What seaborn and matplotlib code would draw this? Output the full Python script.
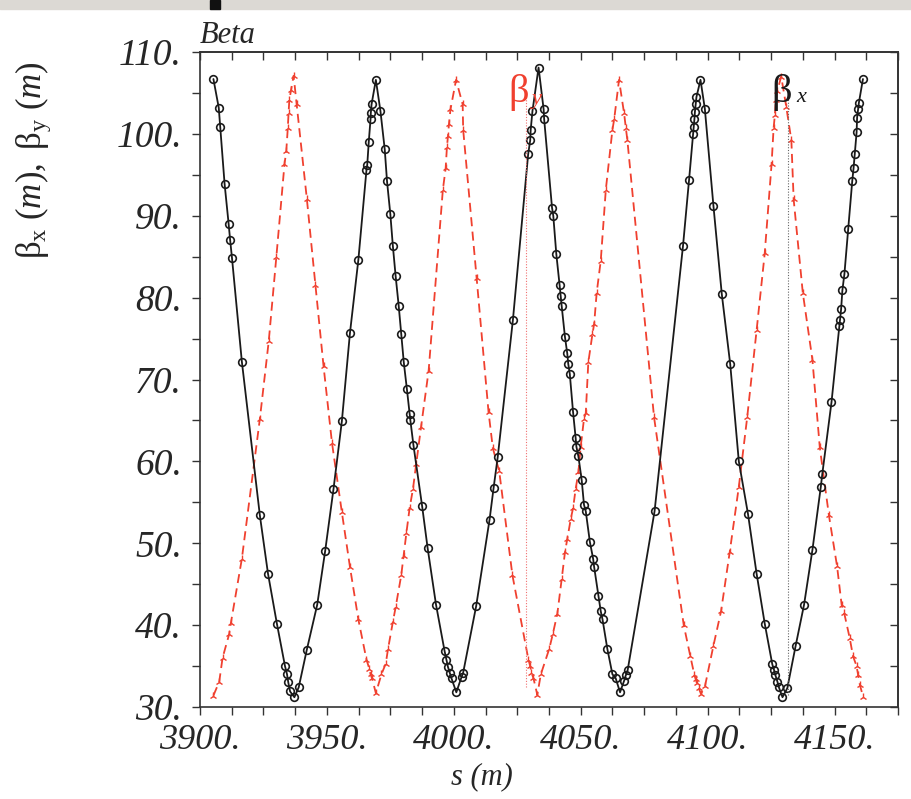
import numpy as np
import pandas as pd
import matplotlib
matplotlib.use("Agg")
import matplotlib.pyplot as plt
import seaborn as sns
from matplotlib.ticker import MultipleLocator
from matplotlib.patches import Rectangle

# beta_x (black, circles): s (m) and beta (m)
s_bx = [3905.3, 3907.4, 3908.0, 3909.7, 3911.3, 3911.9, 3912.6, 3916.5, 3923.6, 3926.8,
        3930.3, 3933.5, 3934.3, 3934.8, 3935.5, 3937.2, 3938.9, 3942.1, 3946.2, 3949.3,
        3952.6, 3955.9, 3959.1, 3962.4, 3965.6, 3965.9, 3966.5, 3967.2, 3967.3, 3967.6,
        3969.3, 3971.1, 3972.8, 3973.7, 3975.0, 3976.0, 3977.1, 3978.3, 3979.3, 3980.3,
        3981.5, 3982.6, 3982.9, 3984.1, 3987.5, 3989.7, 3993.0, 3996.4, 3997.1, 3997.7,
        3998.4, 3999.1, 4001.0, 4003.1, 4003.7, 4008.8, 4014.1, 4015.7, 4017.3, 4023.3,
        4029.3, 4030.1, 4030.3, 4031.0, 4033.4, 4035.4, 4035.6, 4038.7, 4039.2, 4040.4,
        4041.7, 4042.1, 4042.5, 4043.8, 4044.7, 4045.1, 4045.7, 4047.0, 4048.0, 4048.3,
        4049.1, 4050.4, 4051.3, 4052.0, 4053.6, 4054.9, 4055.3, 4057.0, 4057.9, 4058.6,
        4060.5, 4062.5, 4063.8, 4065.5, 4067.1, 4067.8, 4068.5, 4079.1, 4090.3, 4092.7,
        4094.3, 4094.6, 4094.8, 4095.0, 4095.3, 4095.6, 4097.2, 4098.9, 4102.3, 4105.6,
        4108.9, 4112.3, 4115.9, 4119.3, 4122.5, 4125.5, 4126.2, 4126.7, 4127.5, 4128.1,
        4129.5, 4131.4, 4134.7, 4138.0, 4141.3, 4144.6, 4145.2, 4148.8, 4151.9, 4152.2,
        4152.6, 4153.1, 4153.9, 4155.4, 4157.0, 4157.5, 4158.0, 4158.7, 4158.9, 4159.3,
        4159.6, 4161.2]
beta_x = [106.7, 103.2, 100.8, 93.9, 89.0, 87.0, 84.9, 72.2, 53.4, 46.3,
          40.2, 35.0, 34.0, 33.0, 31.9, 31.2, 32.4, 37.0, 42.5, 49.0,
          56.6, 64.9, 75.7, 84.6, 95.6, 96.2, 99.0, 101.8, 102.5, 103.6,
          106.6, 102.8, 98.1, 94.2, 90.2, 86.3, 82.6, 79.0, 75.5, 72.1,
          68.9, 65.8, 65.0, 62.0, 54.6, 49.4, 42.5, 36.8, 35.8, 34.9,
          34.2, 33.5, 31.8, 33.7, 34.2, 42.3, 52.9, 56.8, 60.5, 77.3,
          97.5, 99.2, 100.5, 102.8, 108.1, 103.0, 101.8, 91.0, 90.0, 85.3,
          81.5, 80.2, 79.0, 75.2, 73.2, 71.9, 70.7, 66.0, 62.9, 61.8,
          60.6, 57.7, 54.7, 53.9, 50.2, 48.1, 47.1, 43.6, 41.7, 40.7,
          37.1, 34.0, 33.5, 31.8, 33.2, 33.9, 34.5, 53.9, 86.3, 94.4,
          100.0, 100.9, 101.8, 102.7, 103.6, 104.5, 106.6, 103.1, 91.2, 80.4,
          71.9, 60.0, 53.6, 46.3, 40.2, 35.2, 34.5, 33.9, 33.1, 32.4,
          31.2, 32.3, 37.5, 42.5, 49.2, 56.9, 58.5, 67.2, 76.5, 77.3,
          78.6, 80.9, 82.9, 88.4, 94.3, 95.8, 97.6, 100.2, 102.0, 103.0,
          103.8, 106.7]

# beta_y (red, dashed)
s_by = [3905.3, 3907.6, 3908.9, 3911.5, 3912.2, 3916.5, 3923.6, 3927.1, 3930.1, 3933.3,
        3934.0, 3934.6, 3934.9, 3935.2, 3935.9, 3936.9, 3938.1, 3942.1, 3945.5, 3948.7,
        3952.0, 3955.9, 3959.1, 3962.4, 3965.6, 3966.7, 3967.2, 3967.8, 3969.3, 3971.5,
        3973.2, 3974.1, 3976.0, 3977.1, 3979.3, 3980.2, 3981.3, 3982.6, 3983.9, 3985.2,
        3987.1, 3990.1, 3995.7, 3996.8, 3997.3, 3997.7, 3998.1, 3998.7, 4000.9, 4003.5,
        4003.7, 4009.0, 4013.7, 4015.4, 4017.9, 4023.1, 4029.4, 4030.1, 4030.6, 4031.4,
        4032.9, 4034.3, 4037.6, 4039.0, 4040.8, 4042.5, 4043.8, 4044.7, 4046.1, 4047.0,
        4048.0, 4049.1, 4050.0, 4051.3, 4052.0, 4053.0, 4054.6, 4055.3, 4056.3, 4057.9,
        4059.9, 4062.5, 4063.2, 4065.1, 4067.1, 4067.8, 4068.4, 4078.9, 4090.6, 4093.2,
        4094.8, 4095.3, 4095.8, 4096.5, 4097.4, 4099.0, 4102.3, 4105.3, 4108.7, 4112.3,
        4115.6, 4119.3, 4122.5, 4125.2, 4126.0, 4126.5, 4126.9, 4127.4, 4129.0, 4131.0,
        4133.0, 4133.9, 4137.5, 4141.3, 4144.2, 4147.8, 4151.0, 4152.8, 4153.8, 4156.0,
        4157.3, 4158.7, 4159.3, 4160.0, 4161.3]
beta_y = [31.4, 33.1, 36.0, 38.9, 40.3, 48.1, 65.2, 74.7, 85.0, 96.3,
          97.9, 100.7, 102.5, 104.1, 105.4, 107.1, 103.6, 92.1, 81.5, 71.6,
          62.3, 53.8, 47.1, 40.7, 35.8, 34.7, 34.0, 33.5, 31.7, 34.0,
          35.3, 37.1, 40.4, 42.2, 46.1, 48.4, 51.2, 54.3, 56.6, 59.7,
          64.2, 71.1, 93.2, 95.8, 98.4, 99.7, 101.2, 103.0, 106.6, 103.6,
          100.5, 82.4, 66.0, 61.6, 58.8, 46.1, 35.8, 35.0, 34.2, 33.5,
          31.5, 34.0, 37.1, 38.9, 41.4, 45.6, 48.9, 50.5, 53.0, 54.3,
          56.6, 58.7, 61.8, 65.2, 65.9, 72.1, 75.5, 76.8, 80.6, 84.5,
          93.2, 100.5, 101.8, 106.6, 102.5, 100.7, 99.2, 65.4, 40.0, 36.2,
          33.9, 33.4, 32.9, 32.3, 31.6, 32.6, 37.5, 41.7, 48.9, 56.9,
          65.4, 76.0, 85.4, 96.3, 100.7, 102.3, 104.1, 105.2, 107.0, 103.3,
          99.2, 92.0, 80.6, 72.4, 61.7, 53.4, 47.2, 42.5, 41.5, 38.4,
          36.2, 35.0, 33.9, 32.7, 31.2]

x_ticks = [3900, 3950, 4000, 4050, 4100, 4150]
x_tick_labels = ["3900.", "3950.", "4000.", "4050.", "4100.", "4150."]
y_ticks = [30, 40, 50, 60, 70, 80, 90, 100, 110]
y_tick_labels = ["30.", "40.", "50.", "60.", "70.", "80.", "90.", "100.", "110."]

RED = "#f0402f"
BLACK = "#1a1a1a"

sns.set_style("ticks")
plt.rcParams["font.family"] = ["Liberation Serif", "DejaVu Serif"]
plt.rcParams["mathtext.fontset"] = "custom"
plt.rcParams["mathtext.rm"] = "Liberation Serif"
plt.rcParams["mathtext.it"] = "Liberation Serif:italic"

fig = plt.figure(figsize=(9.11, 7.99), dpi=100)
ax = fig.add_axes([0.2195, 0.1151, 0.7662, 0.8198])

df_x = pd.DataFrame({"s": s_bx, "beta": beta_x})
df_y = pd.DataFrame({"s": s_by, "beta": beta_y})

sns.lineplot(data=df_y, x="s", y="beta", sort=False, estimator=None, ax=ax,
             color=RED, lw=1.3, marker="2", markersize=6,
             markeredgecolor=RED, markeredgewidth=1.0)
ax.lines[-1].set_dashes([5, 3])
sns.lineplot(data=df_x, x="s", y="beta", sort=False, estimator=None, ax=ax,
             color=BLACK, lw=1.3, marker="o", markersize=5.5,
             markerfacecolor="none", markeredgecolor=BLACK, markeredgewidth=1.2)

# pointer lines under the labels
ax.vlines(4028.5, 32.5, 104.5, colors="#f07070", linestyles=(0, (1, 1.5)), lw=0.8)
ax.vlines(4131.8, 31.5, 104.5, colors="#666666", linestyles=(0, (1, 1.5)), lw=0.8)

ax.text(4021.5, 103.9, "β", color=RED, fontsize=29, va="baseline")
ax.text(4030.8, 103.6, "y", color=RED, fontsize=16, style="italic", va="baseline")
ax.text(4125.1, 103.9, "β", color=BLACK, fontsize=29, va="baseline")
ax.text(4135.0, 103.9, "x", color=BLACK, fontsize=16, style="italic", va="baseline")

ax.text(0.0, 1.0137, "Beta", transform=ax.transAxes, fontsize=22, style="italic",
        va="baseline", ha="left")

ax.set_xlim(3900, 4175)
ax.set_ylim(30, 110)
ax.set_xticks(x_ticks, labels=x_tick_labels)
ax.set_yticks(y_ticks, labels=y_tick_labels)
ax.xaxis.set_minor_locator(MultipleLocator(12.5))
ax.yaxis.set_minor_locator(MultipleLocator(5))
ax.tick_params(which="both", direction="out", length=6, width=1, color="#333333",
               top=False, right=False)
ax.tick_params(axis="x", which="major", labelsize=26, pad=6)
ax.tick_params(axis="y", which="major", labelsize=27, pad=7)
for lab in ax.get_xticklabels() + ax.get_yticklabels():
    lab.set_style("italic")

secx = ax.secondary_xaxis("top")
secx.xaxis.set_major_locator(MultipleLocator(12.5))
secx.tick_params(direction="in", length=6, width=1, color="#333333", labeltop=False)
secy = ax.secondary_yaxis("right")
secy.yaxis.set_major_locator(MultipleLocator(5))
secy.tick_params(direction="in", length=6, width=1, color="#333333", labelright=False)

for a in (ax, secx, secy):
    for sp in a.spines.values():
        sp.set_linewidth(1.2)
        sp.set_color("#333333")

ax.set_xlabel("s (m)", fontsize=22, style="italic")
ax.xaxis.set_label_coords(0.404, -0.085)
ax.set_ylabel(r"$\mathrm{\beta}_{\mathrm{x}}\ (m),\ \mathrm{\beta}_{\mathrm{y}}\ (m)$", fontsize=25)
ax.yaxis.set_label_coords(-0.21, 0.835)

# screenshot strip at the top edge
fig.add_artist(Rectangle((0, 1 - 9 / 799), 1, 9 / 799, transform=fig.transFigure,
                         color="#dcd9d4", zorder=0))
fig.add_artist(Rectangle((210 / 911, 1 - 9 / 799), 10 / 911, 9 / 799,
                         transform=fig.transFigure, color="#111111", zorder=1))

fig.savefig("out.png", dpi=100)
